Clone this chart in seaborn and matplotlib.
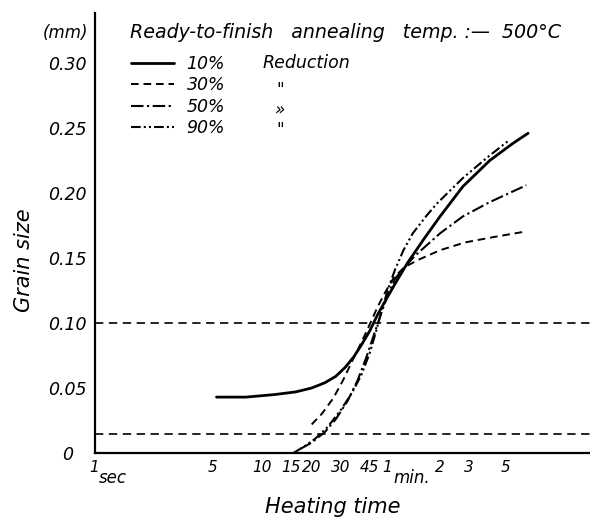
import numpy as np
import pandas as pd
import matplotlib
matplotlib.use("Agg")
import matplotlib.pyplot as plt
from matplotlib.ticker import FixedLocator, NullLocator
import matplotlib.transforms as mtrans
import seaborn as sns

# ---- data (heating time in seconds, grain size in mm) ----
t_10 = [5.3, 8, 12, 16, 20, 24, 28, 32, 36, 40, 45, 50, 57, 66, 76, 95, 120, 165, 240, 330, 410]
g_10 = [0.043, 0.043, 0.045, 0.047, 0.050, 0.054, 0.059, 0.066, 0.074, 0.083, 0.094, 0.106,
        0.119, 0.133, 0.146, 0.164, 0.182, 0.205, 0.225, 0.238, 0.246]

t_30 = [20, 23, 27, 31, 35, 40, 45, 50, 56, 63, 73, 90, 120, 170, 250, 380]
g_30 = [0.022, 0.030, 0.042, 0.056, 0.070, 0.085, 0.099, 0.112, 0.124, 0.135, 0.143, 0.149,
        0.156, 0.162, 0.166, 0.170]

t_50 = [17, 20, 24, 28, 33, 38, 43, 48, 53, 58, 64, 73, 85, 100, 120, 165, 240, 400]
g_50 = [0.003, 0.008, 0.016, 0.026, 0.040, 0.056, 0.074, 0.092, 0.108, 0.122, 0.134, 0.143,
        0.152, 0.160, 0.169, 0.182, 0.193, 0.206]

t_90 = [15.5, 18, 21, 25, 30, 35, 40, 45, 49, 53, 58, 64, 72, 82, 100, 115, 165, 230, 310]
g_90 = [0.0, 0.005, 0.011, 0.020, 0.033, 0.046, 0.060, 0.077, 0.093, 0.109, 0.126, 0.141,
        0.156, 0.169, 0.183, 0.192, 0.2115, 0.227, 0.240]

series_labels = ["10%", "30%", "50%", "90%"]
ditto_marks = ["Reduction", '"', '»', '"']
ref_levels = [0.10, 0.015]

x_ticks = [1, 5, 10, 15, 20, 30, 45, 60, 120, 180, 300]
x_ticklabels = ["1", "5", "10", "15", "20", "30", "45", "1", "2", "3", "5"]
y_ticks = [0, 0.05, 0.10, 0.15, 0.20, 0.25, 0.30]
y_ticklabels = ["0", "0.05", "0.10", "0.15", "0.20", "0.25", "0.30"]

title_text = "Ready-to-finish   annealing   temp. :\u2014  500\u00b0C"

# ---- style ----
sns.set_style("white")
plt.rcParams["font.family"] = ["DejaVu Sans"]
plt.rcParams["font.style"] = "italic"
plt.rcParams["mathtext.default"] = "it"
plt.rcParams["lines.scale_dashes"] = False
plt.rcParams["text.color"] = "black"
plt.rcParams["axes.labelcolor"] = "black"
plt.rcParams["xtick.color"] = "black"
plt.rcParams["ytick.color"] = "black"

W, H = 590, 520
fig = plt.figure(figsize=(W / 100, H / 100), dpi=100)
ax = fig.add_axes([95 / W, (H - 453) / H, (W - 95) / W, 440 / H])

styles = [
    dict(linestyle="-", linewidth=2.0),
    dict(linestyle=(0, (5.5, 3.5)), linewidth=1.4),
    dict(linestyle=(0, (9, 2.5, 1.6, 2.5)), linewidth=1.5),
    dict(linestyle=(0, (7, 2.2, 1.5, 2.2, 1.5, 2.2)), linewidth=1.5),
]

data = [(t_10, g_10), (t_30, g_30), (t_50, g_50), (t_90, g_90)]
handles = []
for (t, g), lab, st in zip(data, series_labels, styles):
    df = pd.DataFrame({"t": t, "g": g})
    sns.lineplot(data=df, x="t", y="g", ax=ax, color="black", estimator=None,
                 sort=True, label=lab, legend=False, **st)
    handles.append(ax.lines[-1])

for lvl in ref_levels:
    ax.axhline(lvl, color="black", linewidth=1.2, linestyle=(0, (6, 4)))

ax.set_xscale("log")
ax.set_xlim(0.972, 973)
ax.set_ylim(0, 0.3385)
ax.xaxis.set_major_locator(FixedLocator(x_ticks))
ax.xaxis.set_minor_locator(NullLocator())
ax.set_xticklabels(x_ticklabels, fontsize=11)
ax.set_yticks(y_ticks)
ax.set_yticklabels(y_ticklabels, fontsize=12.5)

ax.tick_params(axis="x", direction="in", length=6, width=1.0, pad=5, color="black", labelcolor="black")
ax.tick_params(axis="y", direction="in", length=5, width=1.0, pad=6, color="black", labelcolor="black")
for side in ["top", "right"]:
    ax.spines[side].set_visible(False)
for side in ["left", "bottom"]:
    ax.spines[side].set_linewidth(1.6)
    ax.spines[side].set_color("black")

# shift the "0" y tick label left as in the reference
lab0 = ax.get_yticklabels()[0]
lab0.set_transform(lab0.get_transform() + mtrans.ScaledTranslation(-14 / 100, 0, fig.dpi_scale_trans))
# the "1 sec" and "1 min." labels sit slightly left of their ticks
xlabs = ax.get_xticklabels()
for i in (0, 7):
    xlabs[i].set_transform(xlabs[i].get_transform() + mtrans.ScaledTranslation(-3 / 100, 0, fig.dpi_scale_trans))

ax.set_xlabel("Heating time", fontsize=15)
ax.set_ylabel("Grain size", fontsize=15)
ax.xaxis.set_label_coords((333 - 95) / 495, (453 - 497) / 440)
ax.yaxis.set_label_coords((34 - 95) / 495, (453 - 260) / 440)

def px(x, y):
    return x / W, 1 - y / H

fig.text(*px(88, 33), "(mm)", ha="right", va="center", fontsize=12)
fig.text(*px(130, 33), title_text, ha="left", va="center", fontsize=13.7)
fig.text(*px(99, 478), "sec", ha="left", va="center", fontsize=12)
fig.text(*px(393, 478), "min.", ha="left", va="center", fontsize=12)

leg = ax.legend(handles, series_labels, loc="upper left",
                bbox_to_anchor=px(131, 55), bbox_transform=fig.transFigure,
                frameon=False, borderpad=0, borderaxespad=0, fontsize=12.5,
                handlelength=2.5, handletextpad=0.7, labelspacing=0.2)

row_y = [63, 87, 107, 127]
fig.text(*px(263, row_y[0]), ditto_marks[0], ha="left", va="center", fontsize=12.5)
for yy, mk in zip(row_y[1:], ditto_marks[1:]):
    fig.text(*px(280, yy + 3), mk, ha="center", va="center", fontsize=12)

fig.savefig("out.png", dpi=100)
